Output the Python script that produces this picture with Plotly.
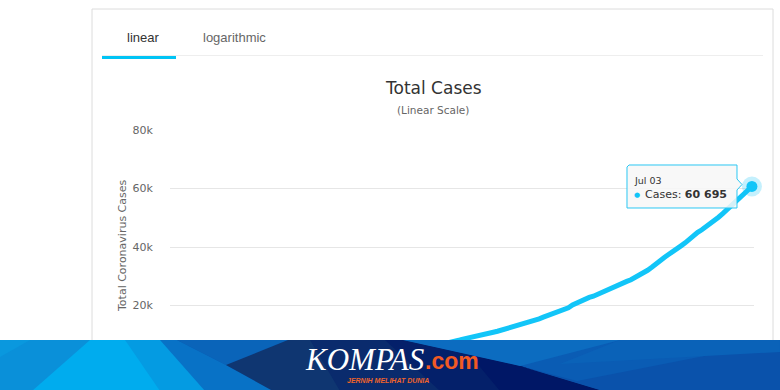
import plotly.graph_objects as go
import pandas as pd

# ---------------- data ----------------
dates = [d.strftime("%b %d") for d in pd.date_range("2020-02-15", "2020-07-03", freq="D")]

feb_values = [0] * 15 + [0]  # Feb 15 - Mar 01
mar_values = [2, 2, 2, 2, 4, 4, 6, 19, 27, 34, 34, 69, 96, 117, 134, 172, 227, 309, 369, 450,
              514, 579, 686, 790, 893, 1046, 1155, 1285, 1414, 1528]
apr_values = [1677, 1790, 1986, 2092, 2273, 2491, 2738, 2956, 3293, 3512, 3842, 4241, 4557, 4839,
              5136, 5516, 5923, 6248, 6575, 6760, 7135, 7418, 7775, 8211, 8607, 8882, 9096, 9511,
              9771, 10118]
may_values = [10551, 10843, 11192, 11587, 12071, 12438, 12776, 13112, 13645, 14032, 14265, 14749,
              15438, 16006, 16496, 17025, 17514, 18010, 18496, 19189, 20162, 20796, 21745, 22271,
              22750, 23165, 23851, 24538, 25216, 25773, 26473]
jun_values = [26940, 27549, 28233, 28818, 29521, 30514, 31186, 32033, 33076, 34316, 35295, 36406,
              37420, 38277, 39294, 40400, 41431, 42762, 43803, 45029, 45891, 46845, 47896, 49009,
              50187, 51427, 52812, 54010, 55092, 56385]
jul_values = [57770, 59394, 60695]
total_cases = feb_values + mar_values + apr_values + may_values + jun_values + jul_values

y_tickvals = [0, 20000, 40000, 60000, 80000]
y_ticktext = ["0", "20k", "40k", "60k", "80k"]

LINE = "#12c5f8"

# ---------------- geometry helpers (pixels -> paper) ----------------
W, H = 780, 390
PL, PR, PT, PB = 170, 754, 130, 364


def px(x):
    return (x - PL) / (PR - PL)


def py(y):
    return (PB - y) / (PB - PT)


def poly(points, color, layer="above", line_color=None, width=0):
    path = "M " + " L ".join(f"{px(x):.5f},{py(y):.5f}" for x, y in points) + " Z"
    return dict(type="path", xref="paper", yref="paper", path=path, fillcolor=color,
                line=dict(color=line_color or color, width=width), layer=layer)


fig = go.Figure()
fig.add_trace(go.Scatter(x=dates, y=total_cases, mode="lines",
                         line=dict(color=LINE, width=5), hoverinfo="skip", showlegend=False))
fig.add_trace(go.Scatter(x=[dates[-1]], y=[total_cases[-1]], mode="markers",
                         marker=dict(size=20, color="rgba(18,197,248,0.25)"),
                         hoverinfo="skip", showlegend=False, cliponaxis=False))
fig.add_trace(go.Scatter(x=[dates[-1]], y=[total_cases[-1]], mode="markers",
                         marker=dict(size=11, color=LINE), hoverinfo="skip", showlegend=False,
                         cliponaxis=False))

shapes = []
# card border
shapes.append(dict(type="rect", xref="paper", yref="paper", x0=px(92), x1=px(773), y0=py(9), y1=py(400),
                   line=dict(color="#dcdcdc", width=1), fillcolor="rgba(0,0,0,0)", layer="below"))
# tab separator and active underline
shapes.append(dict(type="line", xref="paper", yref="paper", x0=px(102), x1=px(763), y0=py(55.5), y1=py(55.5),
                   line=dict(color="#eeeeee", width=1), layer="below"))
shapes.append(dict(type="line", xref="paper", yref="paper", x0=px(102), x1=px(176), y0=py(57.5), y1=py(57.5),
                   line=dict(color="#00c4f5", width=3), layer="below"))

# tooltip box with pointer
tip = [(629, 165), (737, 165), (737, 179), (742, 184.5), (737, 190), (737, 208), (627, 208), (627, 167)]
shapes.append(poly(tip, "rgba(247,247,247,0.85)", line_color="#2cc7f3", width=1))

# ---------------- banner ----------------
shapes.append(poly([(0, 340), (780, 340), (780, 391), (0, 391)], "#0a5cb4"))
shapes.append(poly([(0, 340), (177, 340), (226, 365), (273, 391), (0, 391)], "#0872c6"))
shapes.append(poly([(0, 340), (160, 340), (205, 391), (0, 391)], "#049be2"))
shapes.append(poly([(0, 340), (125, 340), (160, 391), (0, 391)], "#00acee"))
shapes.append(poly([(0, 340), (90, 340), (32, 391), (0, 391)], "#0a90d9"))
shapes.append(poly([(0, 340), (30, 340), (0, 357)], "#0a98de"))
shapes.append(poly([(177, 340), (288, 340), (226, 365)], "#0a64b9"))
# navy arrow
shapes.append(poly([(226, 365), (288, 340), (403, 340), (520, 366), (603, 391), (273, 391)], "#0f3671"))
shapes.append(poly([(310, 340), (403, 340), (520, 366), (603, 391), (340, 391)], "#0a2b6d"))
shapes.append(poly([(385, 340), (403, 340), (520, 366), (603, 391), (440, 391)], "#04206a"))
shapes.append(poly([(470, 355), (520, 366), (603, 391), (500, 391)], "#001766"))
# right side facets
shapes.append(poly([(403, 340), (620, 340), (520, 366)], "#0c6cc0"))
shapes.append(poly([(520, 366), (577, 381), (780, 341), (780, 391), (603, 391)], "#0a52ab"))
shapes.append(poly([(620, 340), (780, 340), (780, 352), (560, 364)], "#0a62b8"))

annotations = [
    dict(text="linear", x=px(125), y=py(37.5), xanchor="left", yanchor="middle",
         font=dict(family="Liberation Sans, Arial", size=13, color="#333333")),
    dict(text="logarithmic", x=px(201), y=py(37.5), xanchor="left", yanchor="middle",
         font=dict(family="Liberation Sans, Arial", size=13, color="#666666")),
    dict(text="Total Cases", x=px(433), y=py(88), xanchor="center", yanchor="middle",
         font=dict(family="DejaVu Sans", size=17, color="#333333")),
    dict(text="(Linear Scale)", x=px(433), y=py(110), xanchor="center", yanchor="middle",
         font=dict(family="DejaVu Sans", size=10.5, color="#666666")),
    dict(text="Total Coronavirus Cases", x=px(122), y=py(246), xanchor="center", yanchor="middle",
         textangle=-90, font=dict(family="DejaVu Sans", size=11, color="#666666")),
    # tooltip texts
    dict(text="Jul 03", x=px(632), y=py(180.5), xanchor="left", yanchor="middle",
         font=dict(family="DejaVu Sans", size=9.5, color="#333333")),
    dict(text="●", x=px(632), y=py(194.5), xanchor="left", yanchor="middle",
         font=dict(family="DejaVu Sans", size=7, color=LINE)),
    dict(text="Cases: <b>60 695</b>", x=px(643), y=py(194.5), xanchor="left", yanchor="middle",
         font=dict(family="DejaVu Sans", size=11, color="#333333")),
    # banner logo
    dict(text="<i>KOMPAS</i>", x=px(426), y=py(359), xanchor="right", yanchor="middle",
         font=dict(family="Liberation Serif, Times New Roman", size=31, color="#ffffff")),
    dict(text="<b>.com</b>", x=px(423), y=py(361), xanchor="left", yanchor="middle",
         font=dict(family="Liberation Sans, Arial", size=23, color="#f15a24")),
    dict(text="<b><i>JERNIH MELIHAT DUNIA</i></b>", x=px(388), y=py(380.5), xanchor="center", yanchor="middle",
         font=dict(family="Liberation Sans, Arial", size=7, color="#f0632a")),
]
for a in annotations:
    a.update(xref="paper", yref="paper", showarrow=False)

fig.update_layout(
    width=W, height=H,
    margin=dict(l=PL, r=W - PR, t=PT, b=H - PB, pad=0),
    paper_bgcolor="white", plot_bgcolor="white",
    showlegend=False,
    shapes=shapes, annotations=annotations,
    xaxis=dict(type="category", range=[-0.5, len(dates) - 0.5], showgrid=False, zeroline=False,
               showticklabels=False, showline=False, fixedrange=True),
    yaxis=dict(range=[0, 80000], tickvals=y_tickvals, ticktext=y_ticktext, showgrid=True,
               gridcolor="#e6e6e6", gridwidth=1, zeroline=False, showline=False,
               ticks="outside", ticklen=14, tickcolor="rgba(0,0,0,0)",
               tickfont=dict(family="DejaVu Sans", size=11, color="#666666"), fixedrange=True),
)

fig.write_html("out.html", config={"displayModeBar": False},
               post_script="document.body.style.margin='0px';document.body.style.overflow='hidden';")
